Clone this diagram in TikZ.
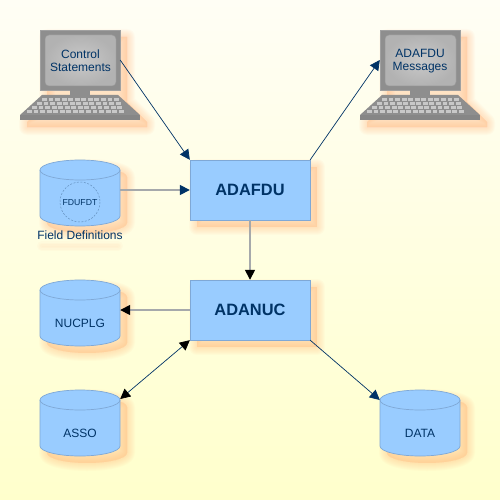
\documentclass[tikz,border=0pt]{standalone}
\usepackage{fontspec}
\setmainfont{Liberation Sans}
\usetikzlibrary{arrows.meta,calc}
\definecolor{navy}{HTML}{003366}
\definecolor{boxblue}{HTML}{99CCFF}
\definecolor{boxedge}{HTML}{7FA8D6}
\definecolor{shadoworange}{HTML}{FFB070}
\definecolor{termgrey}{HTML}{8E8E8E}
\definecolor{termedge}{HTML}{A0A0A0}
\definecolor{termbase}{HTML}{868686}
\definecolor{screengrey}{HTML}{B2B2B2}
\definecolor{screenedge}{HTML}{9A9A9A}
\definecolor{keygrey}{HTML}{C8C8C8}
\definecolor{bgtop}{HTML}{FFFEF5}
\definecolor{bgbot}{HTML}{FFFFCC}
\definecolor{linegrey}{HTML}{A6A9AB}
\tikzset{
  x=1pt,y=-1pt,
  softglow/.style={draw=shadoworange,fill=shadoworange,line join=round,opacity=.042},
  procbox/.style={rectangle,draw=boxedge,fill=boxblue,minimum width=120pt,minimum height=60pt,inner sep=0pt,text=navy,font=\fontsize{16.4}{18}\selectfont\bfseries},
  anchorbox/.style={rectangle,minimum width=80pt,minimum height=60pt,inner sep=0pt},
  plainlabel/.style={inner sep=0pt,text=navy,align=center,font=\fontsize{12}{14}\selectfont},
  conn/.style={draw=navy,line width=.7pt,-{Triangle[length=10pt,width=10pt,color=navy,fill=navy]}},
  connh/.style={draw=linegrey,line width=1.6pt,-{Triangle[length=10pt,width=10pt,color=navy,fill=navy]}},
  connk/.style={draw=linegrey,line width=1.6pt,-{Triangle[length=10pt,width=10pt,color=black,fill=black]}},
  connb/.style={draw=navy,line width=.7pt,{Triangle[length=10pt,width=10pt,color=black,fill=black]}-{Triangle[length=10pt,width=10pt,color=black,fill=black]}},
}
% soft shadow helper: #1 = path
\newcommand{\glowpath}[1]{%
  \foreach \lw in {16,14,12,10,8,6,4,2}{\path[softglow,line width=\lw pt,shift={(7pt,-7pt)}] #1;}%
}
% terminal with top-left of monitor at (#1,#2)
\newcommand{\terminal}[2]{%
  \begin{scope}[shift={(#1pt,-#2pt)}]
    \glowpath{(0,0)--(80,0)--(80,65)--(100,85)--(100,90)--(-20,90)--(-20,85)--(0,65)--cycle}
    \fill[termgrey] (0,0) rectangle (80,60);
    \draw[termedge,line width=.7pt] (0,0) rectangle (80,60);
    \fill[termgrey] (30,60) rectangle (50,67);
    \fill[termgrey] (2,65)--(78,65)--(100,85)--(-20,85)--cycle;
    \fill[termbase] (-20,85) rectangle (100,90);
    \draw[screenedge,line width=.5pt,inner color=screengrey!70!white,outer color=screengrey,rounded corners=4pt] (5,5) rectangle (76,56);
    \foreach \r/\xa/\n in {0/2/12,1/-3/13,2/-8/14,3/-13/15}{
      \pgfmathsetmacro{\yk}{68.5+\r*3.8}
      \foreach \k in {1,...,\n}{
        \pgfmathsetmacro{\xk}{\xa+(\k-1)*6.55}
        \fill[keygrey] (\xk,\yk) rectangle ++(4.9,2.7);
      }
    }
  \end{scope}
}
% cylinder with left x #1 and top y #2
\newcommand{\cylbody}[2]{%
  \begin{scope}[shift={(#1pt,-#2pt)}]
    \glowpath{(0,10) .. controls (0,4.5) and (17.9,0) .. (40,0) .. controls (62.1,0) and (80,4.5) .. (80,10) -- (80,56) .. controls (80,61.5) and (62.1,66) .. (40,66) .. controls (17.9,66) and (0,61.5) .. (0,56) -- cycle}
    \path[fill=boxblue,draw=boxedge,line width=.7pt] (0,10) .. controls (0,4.5) and (17.9,0) .. (40,0) .. controls (62.1,0) and (80,4.5) .. (80,10) -- (80,56) .. controls (80,61.5) and (62.1,66) .. (40,66) .. controls (17.9,66) and (0,61.5) .. (0,56) -- cycle;
    \draw[boxedge,line width=.7pt] (0,10) .. controls (0,15.5) and (17.9,20) .. (40,20) .. controls (62.1,20) and (80,15.5) .. (80,10);
  \end{scope}
}
\begin{document}
\begin{tikzpicture}
\useasboundingbox (0,0) rectangle (500,500);
\shade[top color=bgtop,bottom color=bgbot] (0,0) rectangle (500,500);
\terminal{40}{30}
\terminal{380}{30}
\foreach \lw in {10,7,4}{\path[softglow,line width=\lw pt,line cap=round] (42,246) -- (118,246);}
\cylbody{40}{160}
\cylbody{40}{280}
\cylbody{40}{390}
\cylbody{380}{390}
\glowpath{(190,160) rectangle (310,220)}
\glowpath{(190,280) rectangle (310,340)}
\draw[boxedge!80!navy,line width=.5pt,dash pattern=on 2pt off 1.5pt] (80,202) circle[radius=20];
\node[anchorbox] (ctrl) at (80,60) {};
\node[plainlabel] (ctrltext) at (80.5,61) {Control\\[-1.2pt]Statements};
\node[anchorbox] (msg) at (420,60) {};
\node[plainlabel] (msgtext) at (420,61) {ADAFDU\\[-1.2pt]Messages};
\node[anchorbox] (fdu) at (80,190) {};
\node[plainlabel,font=\fontsize{8.7}{10}\selectfont] (fdulabel) at (80,202.5) {FDUFDT};
\node[plainlabel] (fielddefs) at (80,235) {Field Definitions};
\node[anchorbox] (nuc) at (80,310) {};
\node[plainlabel] (nuctext) at (80,323) {NUCPLG};
\node[anchorbox,minimum height=20pt] (asso) at (80,399) {};
\node[plainlabel] (assotext) at (80,433) {ASSO};
\node[anchorbox,minimum height=20pt] (data) at (420,400) {};
\node[plainlabel] (datatext) at (420,433) {DATA};
\node[procbox] (adafdu) at (250,190) {\raisebox{-1pt}{ADAFDU}};
\node[procbox] (adanuc) at (250,310) {\raisebox{-1pt}{ADANUC}};
\draw[conn] (ctrl.east) -- (adafdu.north west);
\draw[conn] (adafdu.north east) -- (msg.west);
\draw[connh] (fdu.east) -- (adafdu.west);
\draw[connk] (adafdu.south) -- (adanuc.north);
\draw[connk] (adanuc.west) -- (nuc.east);
\draw[connb] (adanuc.south west) -- (asso.east);
\draw[conn] (adanuc.south east) -- (data.west);
\end{tikzpicture}
\end{document}
